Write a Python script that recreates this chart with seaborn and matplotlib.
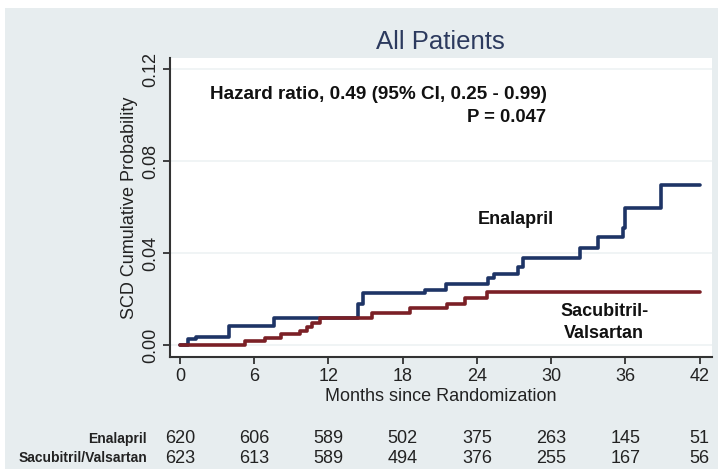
import numpy as np
import pandas as pd
import seaborn as sns
import matplotlib.pyplot as plt
import matplotlib.transforms as mtransforms
from matplotlib.patches import Rectangle

# step points (months, cumulative probability)
enal_months = [0, 0.65, 1.3, 4.0, 7.6, 14.4, 14.8, 19.8, 21.5, 24.9, 25.4,
               27.3, 27.7, 32.3, 33.8, 35.8, 36.0, 38.9, 42]
enal_prob = [0, 0.0026, 0.0035, 0.0083, 0.0117, 0.018, 0.0226, 0.024, 0.0265,
             0.029, 0.031, 0.034, 0.038, 0.042, 0.047, 0.051, 0.0596, 0.0696, 0.0696]
sacval_months = [0, 5.25, 6.9, 8.2, 9.7, 10.3, 10.7, 11.3, 15.5, 18.6, 21.6,
                 23.0, 24.8, 42]
sacval_prob = [0, 0.0017, 0.003, 0.0048, 0.006, 0.0078, 0.0096, 0.0117, 0.014,
               0.016, 0.018, 0.0204, 0.023, 0.023]

risk_months = [0, 6, 12, 18, 24, 30, 36, 42]
risk_enal = [620, 606, 589, 502, 375, 263, 145, 51]
risk_sacval = [623, 613, 589, 494, 376, 255, 167, 56]
risk_labels = ["Enalapril", "Sacubitril/Valsartan"]

y_ticks = [0.00, 0.04, 0.08, 0.12]

df = pd.concat([
    pd.DataFrame({"month": enal_months, "prob": enal_prob, "arm": "Enalapril"}),
    pd.DataFrame({"month": sacval_months, "prob": sacval_prob, "arm": "Sacubitril-Valsartan"}),
])
palette = {"Enalapril": "#1e3466", "Sacubitril-Valsartan": "#7b2026"}

sns.set_theme(style="white")
plt.rcParams["font.family"] = ["Liberation Sans", "DejaVu Sans"]

bg = "#e7edef"
fig = plt.figure(figsize=(7.18, 4.69), dpi=100, facecolor="white")
fig.patches.append(Rectangle((5 / 718, 0), 1, 1 - 8 / 469, transform=fig.transFigure,
                             facecolor=bg, edgecolor="none", zorder=-10))
ax = fig.add_axes([170 / 718, 1 - 357 / 469, (712 - 170) / 718, (357 - 58) / 469])
ax.set_facecolor("white")

sns.lineplot(data=df, x="month", y="prob", hue="arm", palette=palette,
             drawstyle="steps-post", linewidth=2.6, legend=False, ax=ax,
             estimator=None, sort=False)

ax.set_xlim(-0.8, 43.0)
ax.set_ylim(-0.0052, 0.1248)
ax.set_xticks(risk_months)
ax.set_yticks(y_ticks)
ax.set_yticklabels([f"{v:.2f}" for v in y_ticks], rotation=90, va="center")
ax.tick_params(axis="both", which="major", length=5, width=1.2, color="#222222",
               labelsize=13, labelcolor="#222222", bottom=True, left=True, pad=3)
for s in ["top", "right"]:
    ax.spines[s].set_visible(False)
for s in ["left", "bottom"]:
    ax.spines[s].set_color("#333333")
    ax.spines[s].set_linewidth(1.5)
ax.grid(axis="y", color="#eef2f3", linewidth=1.2)
ax.set_axisbelow(True)

ax.set_xlabel("Months since Randomization", fontsize=13, color="#222222", labelpad=2)
ax.set_ylabel("SCD Cumulative Probability", fontsize=13, color="#222222", labelpad=3)
fig.text(440 / 718, 1 - 42 / 469, "All Patients", ha="center", va="center",
         fontsize=18.5, color="#2c3a5e")

ax.text(2.4, 0.109, "Hazard ratio, 0.49 (95% CI, 0.25 - 0.99)", fontsize=13.6,
        fontweight="bold", color="#111111", ha="left", va="center")
ax.text(29.6, 0.099, "P = 0.047", fontsize=13.3, fontweight="bold",
        color="#111111", ha="right", va="center")
ax.text(30.2, 0.0547, "Enalapril", fontsize=13, fontweight="bold",
        color="#111111", ha="right", va="center")
ax.text(34.3, 0.0098, "Sacubitril-\nValsartan", fontsize=13, fontweight="bold",
        color="#111111", ha="center", va="center", linespacing=1.35)

# number at risk table
trans = mtransforms.blended_transform_factory(ax.transData, ax.transAxes)
for row, (lab, vals) in enumerate(zip(risk_labels, [risk_enal, risk_sacval])):
    yy = -0.274 - 0.064 * row
    for m, v in zip(risk_months, vals):
        ax.text(m, yy, str(v), transform=trans, ha="center", va="center",
                fontsize=13, color="#222222")
    fig.text(147 / 718, 1 - (439 + 19 * row) / 469, lab, ha="right", va="center",
             fontsize=10, fontweight="bold", color="#222222")

fig.savefig("out.png", dpi=100, facecolor=fig.get_facecolor())
